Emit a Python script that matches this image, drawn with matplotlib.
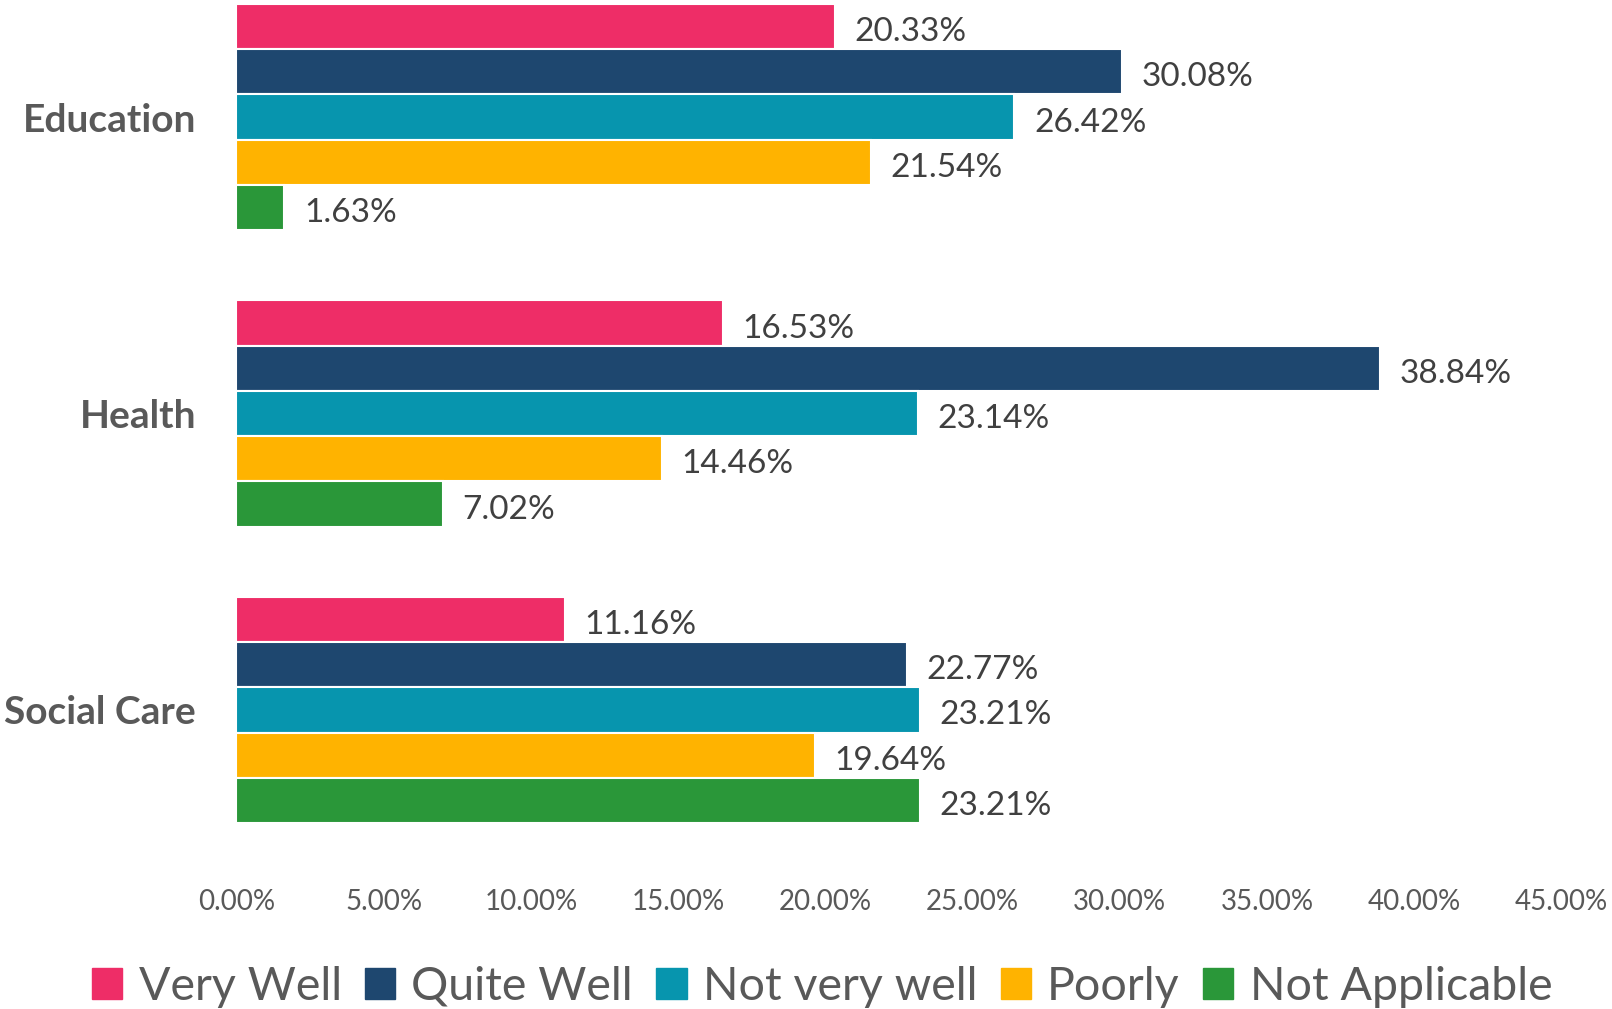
import numpy as np
import matplotlib
matplotlib.use("Agg")
import matplotlib.pyplot as plt
from matplotlib.patches import Patch

plt.rcParams['font.family'] = ['Lato', 'DejaVu Sans']

# data
categories = ['Education', 'Health', 'Social Care']
series = ['Very Well', 'Quite Well', 'Not very well', 'Poorly', 'Not Applicable']
very_well = [20.33, 16.53, 11.16]
quite_well = [30.08, 38.84, 22.77]
not_very_well = [26.42, 23.14, 23.21]
poorly = [21.54, 14.46, 19.64]
not_applicable = [1.63, 7.02, 23.21]
values = [very_well, quite_well, not_very_well, poorly, not_applicable]
xticks = [0, 5, 10, 15, 20, 25, 30, 35, 40, 45]

colors = ['#EE2D67', '#1E476F', '#0795AE', '#FFB300', '#2A9739']

fig = plt.figure(figsize=(16.12, 10.09), dpi=100)
ax = fig.add_axes([0.1467, 0.1576, 0.822, 0.8424])

n = len(series)
h = 0.763 / n
y = np.arange(len(categories))
for i, (name, vals) in enumerate(zip(series, values)):
    pos = y - 0.763 / 2 + h * (i + 0.5)
    ax.barh(pos, vals, height=h, color=colors[i], edgecolor='white', linewidth=1.5, label=name)
    for p, v in zip(pos, vals):
        ax.annotate(f'{v:.2f}%', (v, p), xytext=(14, -4), textcoords='offset points',
                    va='center', ha='left', fontsize=24, color='#404040')

ax.set_xlim(0, 45)
ax.set_ylim(2.4726, -0.395)
ax.set_yticks(y)
ax.set_yticklabels(categories, fontsize=28, fontweight='bold', color='#595959')
ax.set_xticks(xticks)
ax.set_xticklabels([f'{t:.2f}%' for t in xticks], fontsize=20, color='#595959')
ax.tick_params(axis='x', length=0, pad=28)
ax.tick_params(axis='y', length=0, pad=29)
for s in ax.spines.values():
    s.set_visible(False)

handles = [Patch(color=c, label=s) for c, s in zip(colors, series)]
fig.legend(handles=handles, loc='center', bbox_to_anchor=(0.51, 0.022), ncol=5,
           frameon=False, fontsize=33.5, labelcolor='#595959',
           handlelength=0.65, handleheight=0.65, handletextpad=0.35, columnspacing=0.5)

fig.savefig('out.png', dpi=100)
